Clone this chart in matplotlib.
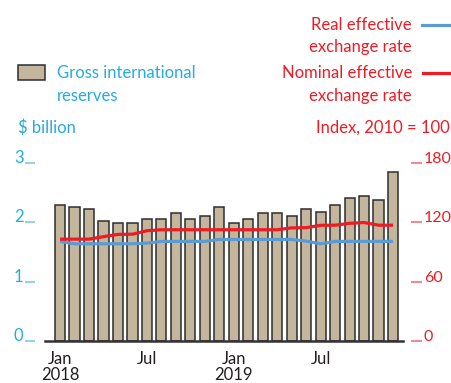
import matplotlib
matplotlib.use("Agg")
import matplotlib.pyplot as plt
from matplotlib.patches import Rectangle
from matplotlib.lines import Line2D

plt.rcParams['font.family'] = ['Lato', 'DejaVu Sans']

# monthly data, Jan 2018 - Dec 2019
months = list(range(24))
reserves = [2.30, 2.26, 2.22, 2.03, 1.99, 1.99, 2.06, 2.06, 2.15, 2.06, 2.10, 2.26,
            1.99, 2.06, 2.15, 2.15, 2.10, 2.22, 2.18, 2.30, 2.41, 2.45, 2.37, 2.84]
neer = [103.0, 103.0, 103.0, 105.5, 107.8, 108.0, 111.5, 112.5, 112.5, 112.5, 112.5, 112.5,
        112.5, 112.5, 112.5, 112.5, 114.4, 114.6, 117.0, 117.1, 119.0, 119.8, 117.1, 117.1]
reer = [100.7, 98.3, 98.3, 98.3, 98.3, 98.3, 99.0, 100.7, 100.7, 100.7, 100.7, 102.7,
        102.7, 102.7, 102.7, 102.7, 102.7, 101.0, 98.3, 100.7, 100.7, 100.7, 100.7, 100.7]
xtick_pos = [0, 6, 12, 18]
xtick_labels = ['Jan\n2018', 'Jul', 'Jan\n2019', 'Jul']
left_ticks = [0, 1, 2, 3]
right_ticks = [0, 60, 120, 180]

RED = '#ed1c24'
BLUE = '#5b9bd5'
CYAN = '#27aae1'
TAN = '#c4b59d'
EDGE = '#2d2d2d'

fig = plt.figure(figsize=(4.52, 3.83), dpi=100)
ax = fig.add_axes([45/452, 1 - 341/383, 358/452, 178/383])

ax.bar(months, reserves, width=0.7, color=TAN, edgecolor=EDGE, linewidth=1.1, zorder=2)
ax.set_xlim(-1.04, 23.69)
ax.set_ylim(0, 3)

ax2 = ax.twinx()
ax2.plot(months, reer, color=BLUE, lw=2.3, solid_capstyle='butt', zorder=3)
ax2.plot(months, neer, color=RED, lw=2.3, solid_capstyle='butt', zorder=4)
ax2.set_ylim(0, 180)

for a in (ax, ax2):
    for s in ('top', 'right', 'left'):
        a.spines[s].set_visible(False)
ax2.spines['bottom'].set_visible(False)
ax.spines['bottom'].set_color('#333333')
ax.spines['bottom'].set_linewidth(1.8)
ax.spines['bottom'].set_zorder(5)

ax.spines['left'].set_position(('outward', 7))
ax2.spines['right'].set_position(('outward', 6))

ax.set_yticks(left_ticks)
ax.set_yticklabels([str(v) for v in left_ticks])
ax.tick_params(axis='y', direction='out', length=7, width=1.4, color='#8fd3f0',
               labelcolor=CYAN, labelsize=12, pad=1.5)
ax2.set_yticks(right_ticks)
ax2.set_yticklabels([str(v) for v in right_ticks])
ax2.tick_params(axis='y', direction='out', length=8, width=1.4, color='#f5878b',
                labelcolor=RED, labelsize=11.5, pad=1)
for t in ax.yaxis.get_major_ticks():
    t.label1.set_verticalalignment('baseline')
for t in ax2.yaxis.get_major_ticks():
    t.label2.set_verticalalignment('baseline')

ax.set_xticks(xtick_pos)
ax.set_xticklabels(xtick_labels, linespacing=1.0)
ax.tick_params(axis='x', length=0, pad=7.5, labelsize=12, labelcolor='#231f20')

# header / legend texts
fig.patches.append(Rectangle((18/452, 1 - 80/383), 27/452, 15/383, transform=fig.transFigure,
                             facecolor=TAN, edgecolor=EDGE, linewidth=1.1))
fig.text(57/452, 1 - 73/383, 'Gross international', color=CYAN, fontsize=12, va='center')
fig.text(57/452, 1 - 96/383, 'reserves', color=CYAN, fontsize=12, va='center')
fig.text(18/452, 1 - 128/383, '$ billion', color=CYAN, fontsize=12, va='center')

fig.text(412/452, 1 - 25/383, 'Real effective', color=RED, fontsize=12, va='center', ha='right')
fig.text(412/452, 1 - 47/383, 'exchange rate', color=RED, fontsize=12, va='center', ha='right')
fig.lines.append(Line2D([422/452, 450/452], [1 - 25/383, 1 - 25/383], transform=fig.transFigure,
                        color=BLUE, lw=2.3))
fig.text(412/452, 1 - 73/383, 'Nominal effective', color=RED, fontsize=12, va='center', ha='right')
fig.text(412/452, 1 - 96/383, 'exchange rate', color=RED, fontsize=12, va='center', ha='right')
fig.lines.append(Line2D([423/452, 450/452], [1 - 73/383, 1 - 73/383], transform=fig.transFigure,
                        color=RED, lw=2.3))
fig.text(450/452, 1 - 128/383, 'Index, 2010 = 100', color=RED, fontsize=12, va='center', ha='right')

fig.savefig('out.png', dpi=100)
